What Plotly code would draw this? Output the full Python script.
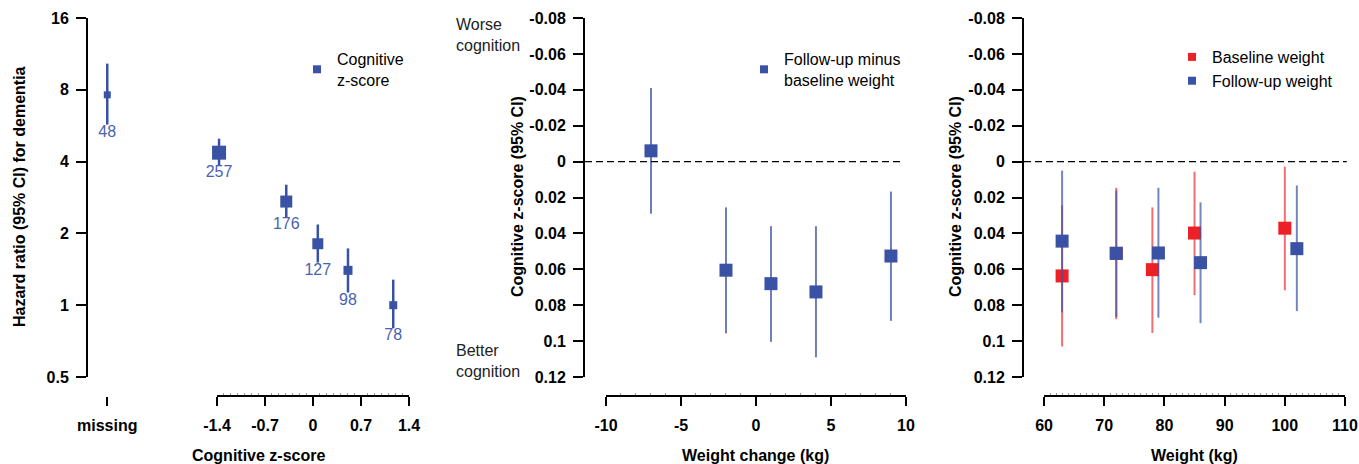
import plotly.graph_objects as go

# ---- data ----
# left: hazard ratio for dementia by cognitive z-score group ("missing" drawn at x=-3)
hr_x = [-3.0, -1.37, -0.39, 0.07, 0.51, 1.17]
hr = [7.62, 4.36, 2.72, 1.81, 1.40, 1.00]
hr_lo = [5.72, 3.86, 2.34, 1.51, 1.13, 0.80]
hr_hi = [10.3, 4.99, 3.20, 2.18, 1.73, 1.28]
hr_n = ["48", "257", "176", "127", "98", "78"]
hr_marker_px = [7, 14, 12, 11, 9, 8]

# middle: cognitive z-score by weight change
wc_x = [-7, -2, 1, 4, 9]
wc_z = [-0.006, 0.0605, 0.068, 0.0726, 0.0526]
wc_lo = [-0.041, 0.0255, 0.036, 0.036, 0.0167]
wc_hi = [0.029, 0.0957, 0.1004, 0.109, 0.0887]

# right: cognitive z-score by weight
base_x = [63, 72, 78, 85, 100]
base_z = [0.0637, 0.0511, 0.0602, 0.0398, 0.0371]
base_lo = [0.0244, 0.0146, 0.0255, 0.0056, 0.0028]
base_hi = [0.103, 0.0878, 0.0955, 0.0744, 0.0717]
fu_x = [63, 72, 79, 86, 102]
fu_z = [0.0443, 0.0511, 0.0509, 0.0563, 0.0485]
fu_lo = [0.005, 0.0161, 0.0146, 0.0227, 0.0133]
fu_hi = [0.084, 0.0867, 0.087, 0.090, 0.0833]

# tick labels
hr_ticks = [0.5, 1, 2, 4, 8, 16]
z_ticks = [-0.08, -0.06, -0.04, -0.02, 0, 0.02, 0.04, 0.06, 0.08, 0.1, 0.12]
z_ticktext = ["-0.08", "-0.06", "-0.04", "-0.02", "0", "0.02", "0.04", "0.06", "0.08", "0.1", "0.12"]
cz_ticks = [-3.0, -1.4, -0.7, 0, 0.7, 1.4]
cz_ticktext = ["missing", "-1.4", "-0.7", "0", "0.7", "1.4"]
wc_ticks = [-10, -5, 0, 5, 10]
wc_ticktext = ["-10", "-5", "0", "5", "10"]
w_ticks = [60, 70, 80, 90, 100, 110]

W, H = 1359, 464
BLUE = "#3a52a4"
RED = "#ec2027"
FONT = "Liberation Sans, Arial, sans-serif"


def px(x):
    return x / W


def py(y):
    return 1 - y / H


def minus_err(v, lo):
    return [a - b for a, b in zip(v, lo)]


def plus_err(v, hi):
    return [b - a for a, b in zip(v, hi)]


fig = go.Figure()

# left panel
fig.add_trace(go.Scatter(
    x=hr_x, y=hr, mode="markers", xaxis="x", yaxis="y", showlegend=False,
    marker=dict(symbol="square", size=hr_marker_px, color=BLUE, opacity=1, line=dict(width=0)),
    error_y=dict(type="data", array=plus_err(hr, hr_hi), arrayminus=minus_err(hr, hr_lo),
                 width=0, thickness=2.5, color=BLUE),
))
fig.add_trace(go.Scatter(
    x=hr_x, y=hr_lo, mode="text", text=hr_n, textposition="bottom center",
    textfont=dict(size=16, color="#4862b2", family=FONT),
    xaxis="x", yaxis="y", showlegend=False, hoverinfo="skip",
))
fig.add_trace(go.Scatter(
    x=[None], y=[None], mode="markers", name="Cognitive<br>z-score", legend="legend",
    marker=dict(symbol="square", size=8, color=BLUE), xaxis="x", yaxis="y",
))

# middle panel
fig.add_trace(go.Scatter(
    x=wc_x, y=wc_z, mode="markers", xaxis="x2", yaxis="y2", showlegend=False,
    marker=dict(symbol="square", size=13, color=BLUE, line=dict(width=0)),
    error_y=dict(type="data", array=plus_err(wc_z, wc_hi), arrayminus=minus_err(wc_z, wc_lo),
                 width=0, thickness=2, color="rgba(58,82,164,0.75)"),
))
fig.add_trace(go.Scatter(
    x=[None], y=[None], mode="markers", name="Follow-up minus<br>baseline weight", legend="legend2",
    marker=dict(symbol="square", size=8, color=BLUE), xaxis="x2", yaxis="y2",
))

# right panel
fig.add_trace(go.Scatter(
    x=base_x, y=base_z, mode="markers", xaxis="x3", yaxis="y3", showlegend=False,
    marker=dict(symbol="square", size=13, color=RED, line=dict(width=0)),
    error_y=dict(type="data", array=plus_err(base_z, base_hi), arrayminus=minus_err(base_z, base_lo),
                 width=0, thickness=2, color="rgba(236,32,39,0.65)"),
))
fig.add_trace(go.Scatter(
    x=fu_x, y=fu_z, mode="markers", xaxis="x3", yaxis="y3", showlegend=False,
    marker=dict(symbol="square", size=13, color=BLUE, line=dict(width=0)),
    error_y=dict(type="data", array=plus_err(fu_z, fu_hi), arrayminus=minus_err(fu_z, fu_lo),
                 width=0, thickness=2, color="rgba(58,82,164,0.7)"),
))
fig.add_trace(go.Scatter(
    x=[None], y=[None], mode="markers", name="Baseline weight", legend="legend3",
    marker=dict(symbol="square", size=8, color=RED), xaxis="x3", yaxis="y3",
))
fig.add_trace(go.Scatter(
    x=[None], y=[None], mode="markers", name="Follow-up weight", legend="legend3",
    marker=dict(symbol="square", size=8, color=BLUE), xaxis="x3", yaxis="y3",
))

ydom = [py(377), py(18)]
xpos = py(396)
tickfont = dict(size=16, color="black", family=FONT, weight="bold")


def xaxis_cfg(dom, rng, tv, tt, minor_vals):
    return dict(
        domain=[px(dom[0]), px(dom[1])], range=rng, anchor="free", position=xpos,
        automargin=False, showline=False, showgrid=False, zeroline=False,
        tickmode="array", tickvals=tv, ticktext=tt, ticks="outside",
        ticklen=9, tickwidth=2, tickcolor="black", tickfont=tickfont, ticklabelstandoff=6,
        minor=dict(tickmode="array", tickvals=minor_vals, ticks="inside", ticklen=3,
                   tickwidth=1, tickcolor="#9a9a9a", showgrid=False),
    )


def yaxis_cfg(anchor, **kw):
    d = dict(
        domain=ydom, anchor=anchor, automargin=False, showline=True, linewidth=2,
        linecolor="black", showgrid=False, zeroline=False, ticks="outside", ticklen=10,
        tickwidth=2, tickcolor="black", tickfont=tickfont, ticklabelstandoff=4,
    )
    d.update(kw)
    return d


cz_minor = [round(-1.4 + 0.1 * i, 1) for i in range(29) if i % 7]
wc_minor = [v for v in range(-10, 11) if v % 5]
w_minor = [v for v in range(60, 111) if v % 10]

legend_style = dict(xanchor="left", yanchor="top", bgcolor="rgba(0,0,0,0)",
                    font=dict(size=16, family=FONT, color="black"), tracegroupgap=0)

fig.update_layout(
    template="none",
    width=W, height=H, margin=dict(l=0, r=0, t=0, b=0, autoexpand=False),
    paper_bgcolor="white", plot_bgcolor="white",
    font=dict(family=FONT, size=16, color="black"),
    xaxis=xaxis_cfg((88, 420), [-3.281, 1.560], cz_ticks, cz_ticktext, cz_minor),
    xaxis2=xaxis_cfg((585, 910), [-11.4, 10.27], wc_ticks, wc_ticktext, wc_minor),
    xaxis3=xaxis_cfg((1024, 1350), [56.67, 110.83], w_ticks, [str(v) for v in w_ticks], w_minor),
    yaxis=yaxis_cfg("x", type="log", range=[-0.30103, 1.20412], tickmode="array",
                    tickvals=hr_ticks, ticktext=[str(v) for v in hr_ticks]),
    yaxis2=yaxis_cfg("x2", range=[0.12, -0.08], tickmode="array", tickvals=z_ticks, ticktext=z_ticktext),
    yaxis3=yaxis_cfg("x3", range=[0.12, -0.08], tickmode="array", tickvals=z_ticks, ticktext=z_ticktext),
    legend=dict(x=px(297), y=py(42), **legend_style),
    legend2=dict(x=px(744), y=py(42), **legend_style),
    legend3=dict(x=px(1172), y=py(40), **legend_style),
)

# offset bottom axis lines and dashed zero reference lines
for xr, x0, x1 in [("x", -1.4, 1.4), ("x2", -10, 10), ("x3", 60, 110)]:
    fig.add_shape(type="line", xref=xr, yref="paper", x0=x0, x1=x1, y0=xpos, y1=xpos,
                  line=dict(color="black", width=2))
fig.add_shape(type="line", xref="x2", yref="y2", x0=-11.4, x1=9.8, y0=0, y1=0,
              line=dict(color="black", width=1.2, dash="7px,4px"))
fig.add_shape(type="line", xref="x3", yref="y3", x0=56.67, x1=110.3, y0=0, y1=0,
              line=dict(color="black", width=1.2, dash="7px,4px"))

# axis titles
bold = dict(size=16, family=FONT, color="black", weight="bold")
for txt, x in [("Cognitive z-score", 258), ("Weight change (kg)", 755), ("Weight (kg)", 1194)]:
    fig.add_annotation(text=txt, x=px(x), y=py(455), xref="paper", yref="paper",
                       showarrow=False, font=bold, xanchor="center", yanchor="middle")
for txt, x in [("Hazard ratio (95% CI) for dementia", 20), ("Cognitive z-score (95% CI)", 518),
               ("Cognitive z-score (95% CI)", 956)]:
    fig.add_annotation(text=txt, x=px(x), y=py(197), xref="paper", yref="paper", textangle=-90,
                       showarrow=False, font=bold, xanchor="center", yanchor="middle")

# direction hints
for txt, y in [("Worse<br>cognition", 35), ("Better<br>cognition", 361)]:
    fig.add_annotation(text=txt, x=px(454), y=py(y), xref="paper", yref="paper", showarrow=False,
                       align="left", xanchor="left", yanchor="middle",
                       font=dict(size=16, family=FONT, color="#222222"))

# the page keeps the browser's default body margin; drop it so the figure fills the window
fig.write_html("out.html", config={"displayModeBar": False},
               post_script="document.body.style.margin='0';")
